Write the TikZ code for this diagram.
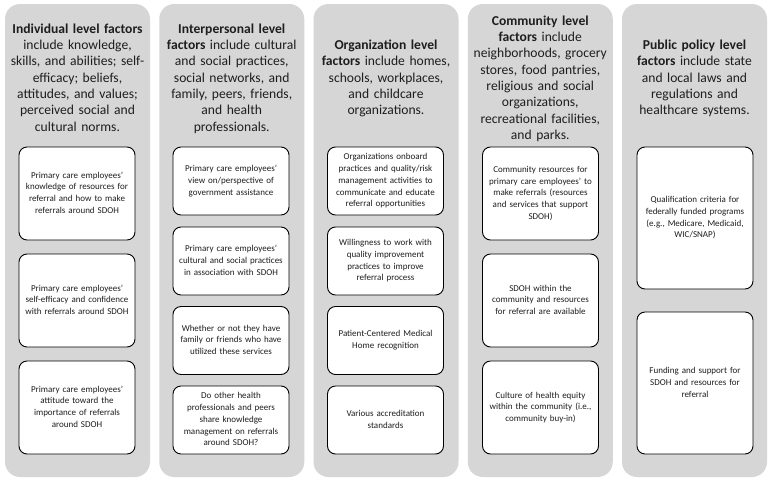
\documentclass[tikz,border=0pt]{standalone}
\usepackage{fontspec}
\setmainfont{Carlito}
\definecolor{colgrey}{HTML}{D6D6D6}
\definecolor{txt}{HTML}{1E1E1E}
\begin{document}
\begin{tikzpicture}[x=1pt,y=-1pt,
  column/.style={fill=colgrey, draw=none, rounded corners=15pt, minimum width=145pt, minimum height=473pt, inner sep=0pt},
  header/.style={text=txt, align=center, text width=142pt, inner sep=0pt, font=\fontsize{13.6}{16.3}\selectfont},
  factor/.style={fill=white, draw=black, line width=0.9pt, rounded corners=8pt, minimum width=116pt, text width=106pt, align=center, inner sep=0pt, text=txt, font=\fontsize{9}{11.7}\selectfont},
  hA/.style={factor, minimum height=93pt},
  hB/.style={factor, minimum height=68pt},
  hC/.style={factor, minimum height=142pt}]
\useasboundingbox (0,0) rectangle (772,483);
\fill[white] (0,0) rectangle (772,483);
% columns
\node[column] (c1) at (77.5,240.5) {};
\node[column] (c2) at (231.75,240.5) {};
\node[column] (c3) at (386,240.5) {};
\node[column] (c4) at (540.25,240.5) {};
\node[column] (c5) at (694.5,240.5) {};
% headers
\node[header] (h1) at (77.5,79) {\strut\textbf{Individual level factors}\\include knowledge,\\skills, and abilities; self-\\efficacy; beliefs,\\attitudes, and values;\\perceived social and\\cultural norms.\strut};
\node[header] (h2) at (231.75,79) {\strut\textbf{Interpersonal level}\\\textbf{factors} include cultural\\and social practices,\\social networks, and\\family, peers, friends,\\and health\\professionals.\strut};
\node[header] (h3) at (386,79) {\strut\textbf{Organization level}\\\textbf{factors} include homes,\\schools, workplaces,\\and childcare\\organizations.\strut};
\node[header] (h4) at (540.25,79) {\strut\textbf{Community level}\\\textbf{factors} include\\neighborhoods, grocery\\stores, food pantries,\\religious and social\\organizations,\\recreational facilities,\\and parks.\strut};
\node[header] (h5) at (694.5,79) {\strut\textbf{Public policy level}\\\textbf{factors} include state\\and local laws and\\regulations and\\healthcare systems.\strut};
% column 1
\node[hA] (a1) at (77,193.5) {\strut Primary care employees'\\knowledge of resources for\\referral and how to make\\referrals around SDOH\strut};
\node[hA] (a2) at (77,300.5) {\strut Primary care employees'\\self-efficacy and confidence\\with referrals around SDOH\strut};
\node[hA] (a3) at (77,407.5) {\strut Primary care employees'\\attitude toward the\\importance of referrals\\around SDOH\strut};
% column 2
\node[hB] (b1) at (231,181) {\strut Primary care employees'\\view on/perspective of\\government assistance\strut};
\node[hB] (b2) at (231,261) {\strut Primary care employees'\\cultural and social practices\\in association with SDOH\strut};
\node[hB] (b3) at (231,340.5) {\strut Whether or not they have\\family or friends who have\\utilized these services\strut};
\node[hB] (b4) at (231,420) {\strut Do other health\\professionals and peers\\share knowledge\\management on referrals\\around SDOH?\strut};
% column 3
\node[hB] (d1) at (385.5,181) {\strut Organizations onboard\\practices and quality/risk\\management activities to\\communicate and educate\\referral opportunities\strut};
\node[hB] (d2) at (385.5,261) {\strut Willingness to work with\\quality improvement\\practices to improve\\referral process\strut};
\node[hB] (d3) at (385.5,340.5) {\strut Patient-Centered Medical\\Home recognition\strut};
\node[hB] (d4) at (385.5,420) {\strut Various accreditation\\standards\strut};
% column 4
\node[hA] (e1) at (540.5,193.5) {\strut Community resources for\\primary care employees' to\\make referrals (resources\\and services that support\\SDOH)\strut};
\node[hA] (e2) at (540.5,300.5) {\strut SDOH within the\\community and resources\\for referral are available\strut};
\node[hA] (e3) at (540.5,407.5) {\strut Culture of health equity\\within the community (i.e.,\\community buy-in)\strut};
% column 5
\node[hC] (f1) at (695,218) {\strut Qualification criteria for\\federally funded programs\\(e.g., Medicare, Medicaid,\\WIC/SNAP)\strut};
\node[hC] (f2) at (695,383) {\strut Funding and support for\\SDOH and resources for\\referral\strut};
\end{tikzpicture}
\end{document}
